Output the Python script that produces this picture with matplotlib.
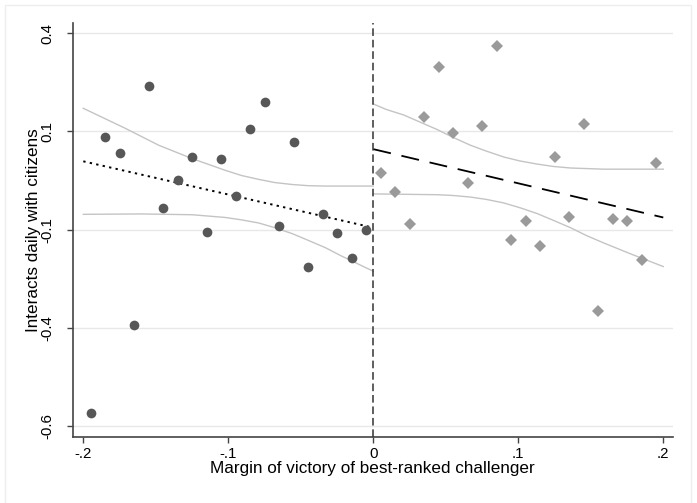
import matplotlib
matplotlib.use("Agg")
import matplotlib.pyplot as plt
from matplotlib.patches import Rectangle

plt.rcParams["font.family"] = ["Liberation Sans", "DejaVu Sans"]

# Promedios por bin, a la izquierda del corte (incumbente pierde)
x_izq = [-0.195, -0.185, -0.175, -0.165, -0.155, -0.145, -0.135, -0.125, -0.115, -0.105,
         -0.095, -0.085, -0.075, -0.065, -0.055, -0.045, -0.035, -0.025, -0.015, -0.005]
y_izq = [-0.592, 0.110, 0.069, -0.367, 0.241, -0.069, 0.001, 0.059, -0.132, 0.055,
         -0.039, 0.131, 0.200, -0.116, 0.098, -0.219, -0.084, -0.134, -0.196, -0.126]

# Promedios por bin, a la derecha del corte
x_der = [0.005, 0.015, 0.025, 0.035, 0.045, 0.055, 0.065, 0.075, 0.085, 0.095,
         0.105, 0.115, 0.125, 0.135, 0.145, 0.155, 0.165, 0.175, 0.185, 0.195]
y_der = [0.019, -0.029, -0.110, 0.162, 0.290, 0.120, -0.006, 0.139, 0.343, -0.152,
         -0.104, -0.167, 0.059, -0.093, 0.145, -0.331, -0.098, -0.103, -0.202, 0.045]

# Ajuste lineal a cada lado (extremos)
fit_izq_x = [-0.2, 0.0]
fit_izq_y = [0.049, -0.120]
fit_der_x = [0.0, 0.2]
fit_der_y = [0.080, -0.094]

# Bandas de confianza (IC 95%)
ci_izq_sup_x = [-0.2, -0.171, -0.148, -0.125, -0.102, -0.091, -0.079, -0.068,
                -0.056, -0.045, -0.033, 0.0]
ci_izq_sup = [0.184, 0.133, 0.090, 0.056, 0.026, 0.013, 0.003, -0.005,
              -0.010, -0.013, -0.014, -0.014]
ci_izq_inf_x = [-0.2, -0.160, -0.125, -0.102, -0.091, -0.079, -0.068, -0.056,
                -0.045, -0.033, -0.022, 0.0]
ci_izq_inf = [-0.086, -0.085, -0.087, -0.094, -0.100, -0.108, -0.120, -0.135,
              -0.152, -0.171, -0.192, -0.231]

ci_der_sup_x = [0.0, 0.009, 0.021, 0.044, 0.055, 0.067, 0.078, 0.090, 0.101,
                0.113, 0.124, 0.136, 0.159, 0.2]
ci_der_sup = [0.195, 0.181, 0.167, 0.130, 0.110, 0.090, 0.075, 0.060, 0.050,
              0.042, 0.036, 0.032, 0.029, 0.029]
ci_der_inf_x = [0.0, 0.044, 0.055, 0.067, 0.078, 0.090, 0.101, 0.113, 0.124,
                0.136, 0.147, 0.159, 0.177, 0.2]
ci_der_inf = [-0.034, -0.036, -0.038, -0.042, -0.048, -0.057, -0.069, -0.084,
              -0.101, -0.120, -0.140, -0.159, -0.186, -0.219]

xticks = [-0.2, -0.1, 0.0, 0.1, 0.2]
xtick_labels = ["-.2", "-.1", "0", ".1", ".2"]
yticks = [0.375, 0.125, -0.125, -0.375, -0.625]
ytick_labels = ["0.4", "0.1", "-0.1", "-0.4", "-0.6"]

W, H = 697, 503
fig = plt.figure(figsize=(W / 100, H / 100), dpi=100)
ax = fig.add_axes([72.7 / W, 1 - 437 / H, (673 - 72.7) / W, (437 - 22.7) / H])

# marco suave alrededor del grafico
fig.add_artist(Rectangle((5 / W, -0.01), (691 - 5) / W, (H - 5) / H + 0.01,
                         transform=fig.transFigure, fill=False,
                         edgecolor="#eeeeee", linewidth=1.0))

for yt in yticks:
    ax.axhline(yt, color="#e8e8e8", linewidth=1.0, zorder=0)

ci_color = "#c4c4c4"
ax.plot(ci_izq_sup_x, ci_izq_sup, color=ci_color, linewidth=1.0, zorder=1)
ax.plot(ci_izq_inf_x, ci_izq_inf, color=ci_color, linewidth=1.0, zorder=1)
ax.plot(ci_der_sup_x, ci_der_sup, color=ci_color, linewidth=1.0, zorder=1)
ax.plot(ci_der_inf_x, ci_der_inf, color=ci_color, linewidth=1.0, zorder=1)

ax.plot(fit_izq_x, fit_izq_y, color="black", linewidth=1.4,
        linestyle=(0, (1.2, 2.2)), zorder=2)
ax.plot(fit_der_x, fit_der_y, color="black", linewidth=1.3,
        linestyle=(0, (10, 6)), zorder=2)

ax.plot(x_izq, y_izq, linestyle="none", marker="o", markersize=7,
        color="#575757", markeredgewidth=0, zorder=3)
ax.plot(x_der, y_der, linestyle="none", marker="D", markersize=6.4,
        color="#9a9a9a", markeredgewidth=0, zorder=3)

ax.axvline(0, color="#333333", linewidth=1.1, linestyle=(0, (5, 2.5)), zorder=4)

ax.set_xlim(-0.2073, 0.2067)
ax.set_ylim(-0.653, 0.402)
ax.set_xticks(xticks)
ax.set_xticklabels(xtick_labels)
ax.set_yticks(yticks)
ax.set_yticklabels(ytick_labels, rotation=90, va="center")

for lado in ["top", "right"]:
    ax.spines[lado].set_visible(False)
for lado in ["left", "bottom"]:
    ax.spines[lado].set_color("#444444")
    ax.spines[lado].set_linewidth(1.2)

ax.tick_params(axis="both", direction="out", length=4.5, width=1.0,
               color="#444444", labelsize=10.8)
ax.tick_params(axis="x", pad=2.5)
ax.tick_params(axis="y", pad=8.5)

ax.set_xlabel("Margin of victory of best-ranked challenger", fontsize=12.3, labelpad=0)
ax.set_ylabel("Interacts daily with citizens", fontsize=12.3, labelpad=0)

fig.savefig("out.png", dpi=100)
